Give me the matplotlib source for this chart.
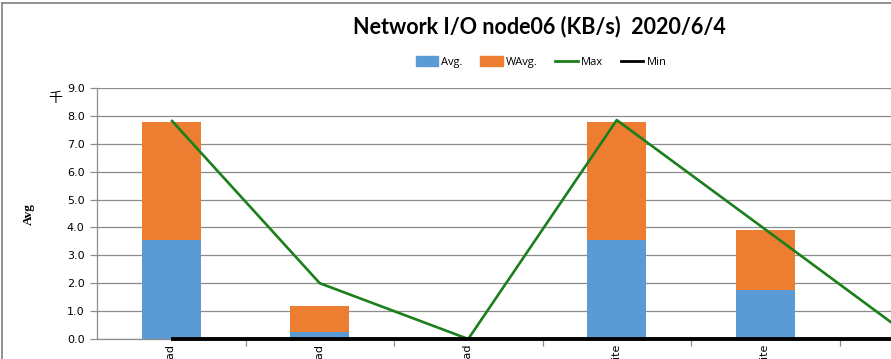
import matplotlib
matplotlib.use('Agg')
import matplotlib.pyplot as plt
from matplotlib.patches import Patch
from matplotlib.lines import Line2D
import numpy as np

# categories (labels are cut off at the bottom in the reference)
categories = ['eth0 Read', 'eth1 Read', 'lo Read', 'eth0 Write', 'eth1 Write', 'lo Write']
avg_vals = [3.55, 0.24, 0.0, 3.55, 1.76, 0.0]
wavg_vals = [4.23, 0.94, 0.0, 4.23, 2.14, 0.0]
max_vals = [7.85, 2.0, 0.0, 7.85, 3.93, 0.0]
min_vals = [0.0, 0.0, 0.0, 0.0, 0.0, 0.0]

c_avg = '#5B9BD5'
c_wavg = '#ED7D31'
c_max = '#1B7F1B'
c_min = '#000000'
grid_c = '#8C8C8C'

fig = plt.figure(figsize=(8.91, 3.59), dpi=100)
W, H = 891, 359

# plot area runs past the right edge of the picture
ax = fig.add_axes([97 / W, 20 / H, 891 / W, 251 / H])
x = np.arange(len(categories))

ax.bar(x, avg_vals, width=0.4, color=c_avg, zorder=2)
ax.bar(x, wavg_vals, width=0.4, bottom=avg_vals, color=c_wavg, zorder=2)
ax.plot(x, max_vals, color=c_max, lw=1.9, zorder=3, solid_capstyle='butt')
ax.plot(x, min_vals, color=c_min, lw=2.8, zorder=4, solid_capstyle='butt', clip_on=False)

ax.set_xlim(-0.5, len(categories) - 0.5)
ax.set_ylim(0, 9)
ax.set_yticks(np.arange(0, 9.1, 1.0))
ax.set_yticklabels(['%.1f' % v for v in np.arange(0, 9.1, 1.0)],
                   fontsize=8, family='DejaVu Sans')
ax.yaxis.grid(True, color=grid_c, lw=0.9, zorder=0)
ax.tick_params(axis='y', length=5, color=grid_c, width=0.9, pad=4)

ax.set_xticks(x)
ax.set_xticklabels(categories, rotation=90, fontsize=8, family='DejaVu Sans', va='top')
ax.tick_params(axis='x', length=0, pad=4)
ax.set_xticks(np.arange(0.5, len(categories), 1.0), minor=True)
ax.tick_params(axis='x', which='minor', length=5, color=grid_c, width=0.9)

for s in ['top', 'right']:
    ax.spines[s].set_visible(False)
ax.spines['left'].set_color(grid_c)
ax.spines['bottom'].set_color(grid_c)
ax.spines['left'].set_linewidth(0.9)
ax.spines['bottom'].set_linewidth(0.9)

# title
fig.text(539 / W, 1 - 27 / H, 'Network I/O node06 (KB/s)  2020/6/4',
         ha='center', va='center', fontsize=15.5, fontweight='bold', family='Lato')

# axis title and display unit
fig.text(29 / W, 1 - 214 / H, 'Avg', rotation=90, ha='center', va='center',
         fontsize=9.5, fontweight='bold', family='Liberation Serif')
fig.text(55 / W, 1 - 98 / H, '千', ha='center', va='center', fontsize=10,
         family=['Noto Sans CJK SC', 'DejaVu Sans'])

# legend
handles = [Patch(color=c_avg), Patch(color=c_wavg),
           Line2D([], [], color=c_max, lw=2), Line2D([], [], color=c_min, lw=2)]
fig.legend(handles, ['Avg.', 'WAvg.', 'Max', 'Min'], loc='center',
           bbox_to_anchor=(541 / W, 1 - 62 / H), ncol=4, frameon=False,
           handlelength=2.0, handleheight=0.9, handletextpad=0.3,
           columnspacing=1.6, prop={'family': 'Open Sans', 'size': 8})

# chart frame, cut at the picture edges
fig.add_artist(Line2D([2 / W, 1], [1 - 3 / H, 1 - 3 / H], color='#7F7F7F', lw=1.2))
fig.add_artist(Line2D([2 / W, 2 / W], [0, 1 - 3 / H], color='#7F7F7F', lw=1.2))

fig.savefig('out.png', dpi=100)
